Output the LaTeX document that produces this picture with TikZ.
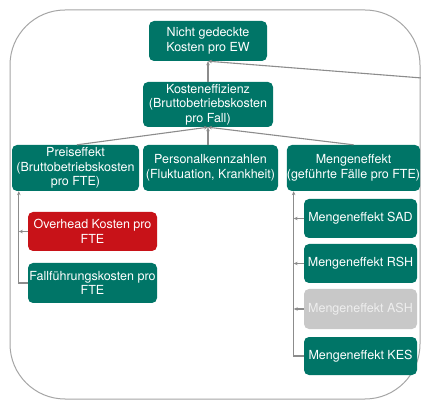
\documentclass[tikz,border=0pt]{standalone}
\usepackage{fontspec}
\setmainfont{TeX Gyre Heros}
\usetikzlibrary{arrows.meta}
\definecolor{tealbox}{RGB}{0,117,103}
\definecolor{redbox}{RGB}{200,18,24}
\definecolor{greybox}{RGB}{200,200,200}
\definecolor{greytext}{RGB}{238,238,238}
\definecolor{conn}{RGB}{140,140,140}
\definecolor{frame}{RGB}{165,165,165}
\tikzset{
  box/.style={rectangle, rounded corners=5pt, fill=tealbox, text=white, align=center,
    inner sep=0pt, font=\fontsize{12.5}{14.5}\selectfont},
  redb/.style={box, fill=redbox},
  greyb/.style={box, fill=greybox, text=greytext},
  link/.style={draw=conn, line width=1.1pt, -{Stealth[length=4pt,width=3.5pt]}},
  frameline/.style={draw=frame, line width=1pt, rounded corners=55pt}
}
\begin{document}
\begin{tikzpicture}[x=1pt,y=-1pt]
\useasboundingbox (0,0) rectangle (421,401);
\draw[frameline] (10,10) rectangle (420,399);
\node[box, minimum width=118pt, minimum height=40pt] (top) at (208,41) {Nicht gedeckte\\Kosten pro EW};
\node[box, minimum width=130pt, minimum height=45pt] (keff) at (208,104.5) {Kosteneffizienz\\(Bruttobetriebskosten\\pro Fall)};
\node[box, minimum width=127pt, minimum height=46pt] (preis) at (75.5,168) {Preiseffekt\\(Bruttobetriebskosten\\pro FTE)};
\node[box, minimum width=135pt, minimum height=46pt] (pers) at (210.5,168) {Personalkennzahlen\\(Fluktuation, Krankheit)};
\node[box, minimum width=133pt, minimum height=46pt] (menge) at (353.5,168) {Mengeneffekt\\(geführte Fälle pro FTE)};
\node[redb, minimum width=129pt, minimum height=39pt] (over) at (92.5,231.5) {Overhead Kosten pro\\FTE};
\node[box, minimum width=129pt, minimum height=40pt] (fall) at (92.5,283) {Fallführungskosten pro\\FTE};
\node[box, minimum width=113pt, minimum height=39pt] (sad) at (360.5,218.5) {Mengeneffekt SAD};
\node[box, minimum width=113pt, minimum height=39pt] (rsh) at (360.5,263.5) {Mengeneffekt RSH};
\node[greyb, minimum width=113pt, minimum height=40pt] (ash) at (360.5,309) {Mengeneffekt ASH};
\node[box, minimum width=113pt, minimum height=38pt] (kes) at (360.5,356) {Mengeneffekt KES};
\coordinate (ext) at (422,78);
\coordinate (lt) at ([xshift=7pt]preis.south west);
\coordinate (rt) at ([xshift=7pt]menge.south west);
\draw[link] (keff.north) -- (top.south);
\draw[link] (ext) -- (top.south);
\draw[link] ([xshift=1.5pt]preis.north) -- (keff.south);
\draw[link] (keff.south |- pers.north) -- (keff.south);
\draw[link] (menge.north) -- (keff.south);
\draw[link] (fall.west) -| (lt);
\draw[link] (over.west) -- (over.west -| lt);
\draw[link] (kes.west) -| (rt);
\draw[link] (sad.west) -- (sad.west -| rt);
\draw[link] (rsh.west) -- (rsh.west -| rt);
\draw[link] (ash.west) -- (ash.west -| rt);
\end{tikzpicture}
\end{document}
